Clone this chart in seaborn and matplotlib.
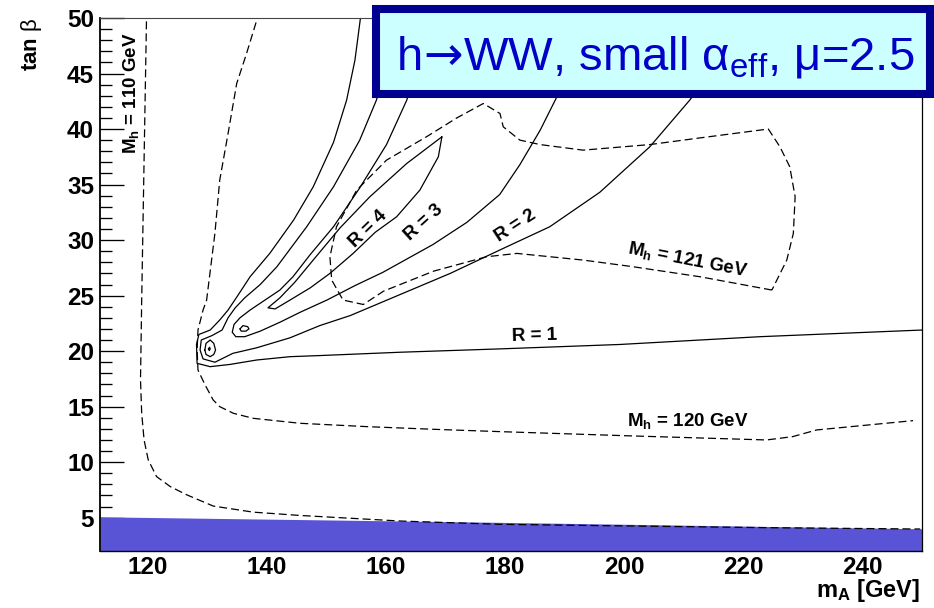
import matplotlib
matplotlib.use("Agg")
import matplotlib.pyplot as plt
import numpy as np
import pandas as pd
import seaborn as sns
from matplotlib.patches import Rectangle

# ---------------- data (m_A [GeV], tan beta) ----------------
# excluded region (LEP) upper boundary
fill_mA = [112.0, 151.1, 179.15, 250.0]
fill_tb = [5.08, 4.79, 4.58, 4.0]

# R = 1 contour
r1_mA = [155.8, 154.8, 153.4, 151.2, 147.8, 144.5, 140.5, 137.2, 135.0, 133.5, 132.1, 130.5,
         128.6, 128.2, 128.3, 130.5, 133.8, 138.3, 143.9, 148.9, 162.4, 179.1, 199.3, 222.8, 250.0]
r1_tb = [50.3, 46.2, 42.6, 38.8, 34.8, 31.8, 28.8, 26.7, 24.9, 23.7, 22.8, 21.9,
         21.5, 20.6, 18.9, 18.6, 18.8, 19.2, 19.5, 19.6, 19.9, 20.2, 20.6, 21.3, 21.9]

# R = 2 contour
r2_mA = [162.2, 160.7, 158.4, 155.6, 151.2, 146.7, 141.7, 138.9, 136.3, 134.7, 133.5, 132.5,
         130.8, 129.0, 128.8, 129.3, 131.3, 134.3, 138.3, 143.9, 148.9, 154.0, 162.4, 170.8,
         179.1, 187.5, 195.9, 204.3, 211.0, 216.1, 220.3, 221.5]
r2_tb = [50.3, 47.1, 42.6, 39.0, 34.8, 31.2, 27.6, 26.0, 24.8, 23.9, 23.0, 21.9,
         21.4, 21.0, 20.1, 19.3, 19.0, 19.8, 20.3, 21.2, 22.3, 23.2, 25.1, 27.0,
         29.1, 31.2, 34.3, 38.4, 42.6, 46.2, 49.4, 50.3]

# R = 3 contour
r3_mA = [166.6, 164.9, 163.5, 160.1, 155.6, 151.2, 147.3, 144.4, 142.2, 139.7, 137.2, 135.5,
         134.5, 134.2, 134.8, 136.3, 138.9, 142.2, 145.6, 150.1, 154.8, 159.5, 167.9, 173.6,
         179.1, 182.5, 185.9, 188.7, 191.7, 194.3]
r3_tb = [50.3, 45.3, 42.6, 38.6, 34.7, 31.2, 28.7, 26.7, 25.5, 24.6, 23.7, 23.0,
         22.4, 21.7, 21.3, 21.3, 21.8, 22.6, 23.5, 24.6, 25.9, 27.1, 29.6, 31.6,
         34.1, 36.8, 39.9, 42.9, 46.2, 50.3]

# R = 4 closed contour
r4_mA = [169.4, 163.5, 157.3, 152.3, 148.1, 144.7, 142.2, 140.2, 141.4, 143.9, 147.3, 150.6,
         154.5, 158.2, 161.8, 165.7, 168.8, 169.4]
r4_tb = [39.3, 36.9, 33.9, 31.1, 28.4, 26.2, 24.8, 23.9, 23.8, 24.6, 25.7, 27.0,
         28.8, 30.7, 32.1, 34.5, 37.5, 39.3]

# small closed contours near the tip
loopA_mA = [129.6, 129.8, 130.5, 131.1, 131.4, 131.1, 130.5, 129.8, 129.6]
loopA_tb = [20.1, 20.7, 21.0, 20.7, 20.1, 19.7, 19.5, 19.7, 20.1]
loopB_mA = [130.2, 130.4, 130.5, 130.35, 130.2]
loopB_tb = [20.2, 20.35, 20.2, 20.05, 20.2]
loopC_mA = [135.5, 136.0, 136.8, 137.0, 136.5, 135.7, 135.5]
loopC_tb = [22.0, 22.3, 22.2, 22.0, 21.8, 21.8, 22.0]

# M_h iso-lines (dashed)
mh110_mA = [119.8, 119.4, 119.0, 118.8, 119.0, 119.4, 120.1, 121.5, 123.8, 126.6, 131.0,
            137.7, 145.6, 154.0, 162.4, 170.8, 179.2, 201.5, 224.0, 249.7]
mh110_tb = [49.7, 37.2, 24.6, 17.4, 14.4, 12.0, 10.2, 8.7, 7.8, 7.05, 6.05,
            5.5, 5.2, 4.95, 4.7, 4.55, 4.4, 4.25, 4.1, 3.98]

mh120_mA = [138.2, 136.6, 134.95, 133.5, 132.1, 131.3, 129.9, 129.3, 128.45, 128.3, 128.45,
            129.6, 131.0, 132.1, 134.4, 137.7, 145.6, 156.8, 168.0, 179.15, 201.5, 223.9,
            228.3, 232.3, 248.5]
mh120_tb = [49.6, 46.8, 44.1, 39.6, 35.4, 30.65, 24.6, 23.7, 21.9, 20.1, 18.3,
            17.0, 15.6, 15.0, 14.4, 13.95, 13.5, 13.2, 12.96, 12.75, 12.36, 12.0,
            12.3, 12.9, 13.74]

mh121_mA = [224.8, 212.7, 201.5, 193.1, 182.0, 176.9, 168.0, 159.6, 156.2, 152.8, 150.9,
            150.6, 151.7, 155.1, 160.1, 166.8, 171.9, 176.35, 179.15, 179.7, 182.5, 185.9,
            193.1, 204.3, 212.7, 224.2, 226.15, 227.8, 228.7, 228.4, 227.3, 224.8]
mh121_tb = [25.5, 26.7, 27.6, 28.2, 28.8, 28.5, 27.2, 25.4, 24.2, 24.6, 26.4,
            28.5, 31.2, 34.5, 37.2, 39.3, 41.0, 42.3, 41.4, 40.2, 39.0, 38.6,
            38.1, 38.6, 39.2, 40.0, 38.4, 36.6, 33.9, 30.6, 28.2, 25.5]

x_ticks = [120, 140, 160, 180, 200, 220, 240]
y_ticks = [5, 10, 15, 20, 25, 30, 35, 40, 45, 50]
y_minor = [t for t in range(3, 50) if t % 5 != 0]

# ---------------- style ----------------
sns.set_theme(style="white")
plt.rcParams["font.family"] = ["Liberation Sans", "DejaVu Sans"]
plt.rcParams["mathtext.fontset"] = "custom"
plt.rcParams["mathtext.rm"] = "Liberation Sans"
plt.rcParams["mathtext.it"] = "Liberation Sans:italic"
plt.rcParams["mathtext.bf"] = "Liberation Sans:bold"
plt.rcParams["text.color"] = "black"

W, H = 934, 608
fig = plt.figure(figsize=(W / 100, H / 100), dpi=100)
ax = fig.add_axes([100 / W, 57 / H, 822 / W, 533 / H])
ax.set_facecolor("white")
ax.set_axisbelow(True)

# excluded region
ax.fill_between(fill_mA, fill_tb, 2, color="#5953d6", lw=0, zorder=1)

DASH = (0, (6.4, 3.2))


def contour(xs, ys, dashed=False):
    df = pd.DataFrame({"m_A": xs, "tan_beta": ys})
    kw = dict(color="black", lw=0.9)
    if dashed:
        kw["ls"] = DASH
    sns.lineplot(data=df, x="m_A", y="tan_beta", sort=False, estimator=None,
                 errorbar=None, ax=ax, **kw)


for xs, ys in [(r1_mA, r1_tb), (r2_mA, r2_tb), (r3_mA, r3_tb), (r4_mA, r4_tb),
               (loopA_mA, loopA_tb), (loopB_mA, loopB_tb), (loopC_mA, loopC_tb)]:
    contour(xs, ys)
for xs, ys in [(mh110_mA, mh110_tb), (mh120_mA, mh120_tb), (mh121_mA, mh121_tb)]:
    contour(xs, ys, dashed=True)

ax.set_xlim(112, 250)
ax.set_ylim(2, 50)
ax.set_xlabel("")
ax.set_ylabel("")

# ticks
ax.set_xticks(x_ticks)
ax.set_yticks(y_ticks)
ax.set_yticks(y_minor, minor=True)
ax.set_xticklabels([str(t) for t in x_ticks])
ax.set_yticklabels([str(t) for t in y_ticks])
ax.tick_params(axis="y", which="major", direction="in", length=17.3, width=0.95,
               left=True, right=False, labelsize=17.5, pad=4.3, color="black",
               labelcolor="black")
ax.tick_params(axis="y", which="minor", direction="in", length=8.6, width=0.95,
               left=True, right=False, color="black")
ax.tick_params(axis="x", which="major", direction="in", length=12, width=0.95,
               bottom=True, top=False, labelsize=17.5, pad=3.5, color="black",
               labelcolor="black")
for lab in ax.get_xticklabels() + ax.get_yticklabels():
    lab.set_fontweight("bold")

# spines
ax.spines["left"].set_linewidth(1.3)
ax.spines["left"].set_color("black")
ax.spines["bottom"].set_linewidth(1.0)
ax.spines["bottom"].set_color("black")
ax.spines["top"].set_linewidth(0.8)
ax.spines["top"].set_color("#444444")
ax.spines["right"].set_linewidth(0.9)
ax.spines["right"].set_color("black")

# contour labels
lab_kw = dict(fontsize=13.5, fontweight="bold", color="black", ha="center", va="center")
ax.text(184.9, 21.4, "R = 1", rotation=1.5, **lab_kw)
ax.text(181.7, 31.3, "R = 2", rotation=33, **lab_kw)
ax.text(166.4, 31.55, "R = 3", rotation=42, **lab_kw)
ax.text(157.0, 31.0, "R = 4", rotation=44, **lab_kw)
mh_kw = dict(fontsize=13.5, fontweight="bold", color="black", ha="center", va="center")
ax.text(117.2, 43.2, r"$\mathbf{M_h}$ = 110 GeV", rotation=90, **mh_kw)
ax.text(210.7, 13.7, r"$\mathbf{M_h}$ = 120 GeV", rotation=0, **mh_kw)
ax.text(210.7, 28.2, r"$\mathbf{M_h}$ = 121 GeV", rotation=-11, **mh_kw)

# axis titles
fig.text(32 / W, 1 - 18 / H, r"tan $\mathrm{β}$", rotation=90, ha="center", va="top",
         fontsize=16, fontweight="bold")
fig.text(920 / W, 1 - 597 / H, r"$\mathbf{m_A}$ [GeV]", ha="right", va="baseline",
         fontsize=17, fontweight="bold")

# title box
box = Rectangle((376 / W, 1 - 94 / H), (929.5 - 376) / W, (94 - 9) / H,
                transform=fig.transFigure, facecolor="#ccffff", edgecolor="#000090",
                lw=5.8, zorder=10)
fig.patches.append(box)

renderer = fig.canvas.get_renderer()
yb = 1 - 70 / H
tkw = dict(ha="left", va="baseline", fontsize=34, color="#0000c8", zorder=11)
t1 = fig.text(397 / W, yb, "h", **tkw)
x1 = t1.get_window_extent(renderer).x1
t2 = fig.text(x1 / W, yb, "→", family="DejaVu Sans", **tkw)
x2 = t2.get_window_extent(renderer).x1
fig.text(x2 / W, yb, r"WW, small $\mathrm{α_{eff}}$, μ=2.5", **tkw)

fig.savefig("out.png", dpi=100)
